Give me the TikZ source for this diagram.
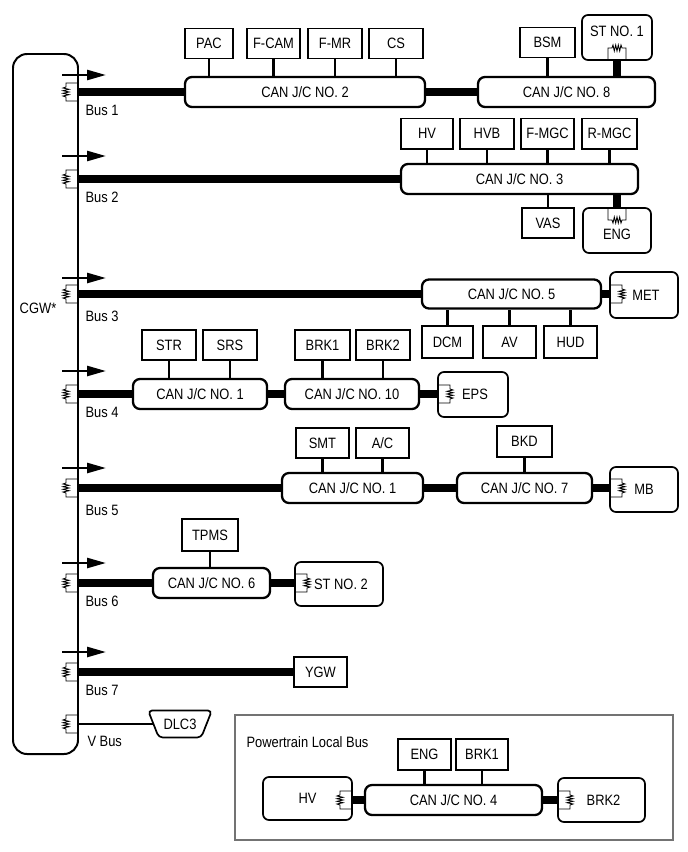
\documentclass[tikz,border=0pt]{standalone}
\usepackage{fontspec}
\setmainfont{Liberation Sans}[FakeStretch=0.86]
\usetikzlibrary{arrows.meta,shapes.geometric}
\def\termres(#1)(#2){\draw[line width=0.3mm, shift={(#1)}, rotate=#2] (0,-9) -- (-12,-9) -- (-12,-5) -- (-15,-4) -- (-9,-2.7) -- (-15,-1.3) -- (-9,0) -- (-15,1.3) -- (-9,2.7) -- (-15,4) -- (-12,5) -- (-12,9) -- (0,9);}

\begin{document}
\begin{tikzpicture}[x=1pt, y=-1pt, font=\fontsize{15}{17}\selectfont,
	ecu/.style={draw, line width=0.7mm, minimum height=30, inner sep=0},
	jc/.style={draw, line width=0.8mm, rounded corners=7, minimum height=30, inner sep=0},
	dev/.style={draw, line width=0.6mm, rounded corners=6, inner sep=0},
	bus/.style={line width=3.1mm},
	stub/.style={line width=0.9mm}]
		%%%%% START %%%%%
		
		\useasboundingbox (0,0) rectangle (688,852);
		
		\node[draw, line width=0.7mm, rounded corners=14, minimum width=65, minimum height=700] (cgw) at (45.5,404) {};
		\node (cgwtxt) at (38,308) {CGW*};
		
		\foreach \by/\ay/\ly/\bn in {92/75/110/1, 179/156/197/2, 294/278/316/3, 394/371/412/4, 488/468/510/5, 583/563/601/6, 672/652/690/7}{
			\draw[line width=0.9mm, -{Triangle[length=19pt,width=10pt]}] (62,\ay) -- (106,\ay);
			\termres(78,\by)(0)
			\node[anchor=west] (bus\bn) at (82,\ly) {Bus \bn};
		}
		\termres(78,724)(0)
		\node[anchor=west] (vbus) at (84,741) {V Bus};
		
		% Bus 1
		\node[jc, minimum width=240] (jc2) at (305,92) {CAN J/C NO. 2};
		\node[jc, minimum width=177] (jc8) at (566.5,92) {CAN J/C NO. 8};
		\node[ecu, minimum width=48] (pac) at (209,43.5) {PAC};
		\node[ecu, minimum width=53] (fcam) at (273.5,43.5) {F-CAM};
		\node[ecu, minimum width=54] (fmr) at (335,43.5) {F-MR};
		\node[ecu, minimum width=54] (cs) at (396,43.5) {CS};
		\node[ecu, minimum width=55] (bsm) at (547.5,42.5) {BSM};
		\node[dev, minimum width=70, minimum height=45, label={[yshift=6.5]center:ST NO. 1}] (st1) at (617,37.5) {};
		\draw[bus] (cgw.east |- jc2.west) -- (jc2.west);
		\draw[bus] (jc2.east) -- (jc8.west);
		\draw[stub] (pac.south) -- (pac.south |- jc2.north);
		\draw[stub] (fcam.south) -- (fcam.south |- jc2.north);
		\draw[stub] (fmr.south) -- (fmr.south |- jc2.north);
		\draw[stub] (cs.south) -- (cs.south |- jc2.north);
		\draw[stub] (bsm.south) -- (bsm.south |- jc8.north);
		\draw[line width=2.8mm] (st1.south) -- (st1.south |- jc8.north);
		\termres(617,60)(-90)
		
		% Bus 2
		\node[jc, minimum width=237] (jc3) at (519.5,179) {CAN J/C NO. 3};
		\node[ecu, minimum width=52] (hv) at (427,133.5) {HV};
		\node[ecu, minimum width=54] (hvb) at (487,133.5) {HVB};
		\node[ecu, minimum width=53] (fmgc) at (547.5,133.5) {F-MGC};
		\node[ecu, minimum width=55] (rmgc) at (609.5,133.5) {R-MGC};
		\node[ecu, minimum width=52] (vas) at (548,223) {VAS};
		\node[dev, minimum width=68, minimum height=45, label={[yshift=-4]center:ENG}] (eng) at (617,230.5) {};
		\draw[bus] (cgw.east |- jc3.west) -- (jc3.west);
		\draw[stub] (hv.south) -- (hv.south |- jc3.north);
		\draw[stub] (hvb.south) -- (hvb.south |- jc3.north);
		\draw[stub] (fmgc.south) -- (fmgc.south |- jc3.north);
		\draw[stub] (rmgc.south) -- (rmgc.south |- jc3.north);
		\draw[stub] (vas.north) -- (vas.north |- jc3.south);
		\draw[line width=2.8mm] (eng.north) -- (eng.north |- jc3.south);
		\termres(617,208)(90)
		
		% Bus 3
		\node[jc, minimum width=179, minimum height=29] (jc5) at (511.5,294) {CAN J/C NO. 5};
		\node[dev, minimum width=68, minimum height=46] (met) at (644,295) {\hspace{4pt}MET};
		\node[ecu, minimum width=51, minimum height=32] (dcm) at (447.5,342) {DCM};
		\node[ecu, minimum width=53, minimum height=32] (av) at (509.5,342) {AV};
		\node[ecu, minimum width=53, minimum height=32] (hud) at (570.5,342) {HUD};
		\draw[bus] (cgw.east |- jc5.west) -- (jc5.west);
		\draw[bus] (jc5.east) -- (met.west |- jc5.east);
		\draw[stub] (dcm.north) -- (dcm.north |- jc5.south);
		\draw[stub] (av.north) -- (av.north |- jc5.south);
		\draw[stub] (hud.north) -- (hud.north |- jc5.south);
		\termres(610,294)(180)
		
		% Bus 4
		\node[jc, minimum width=134] (jc1a) at (200,394) {CAN J/C NO. 1};
		\node[jc, minimum width=134] (jc10) at (352,394) {CAN J/C NO. 10};
		\node[dev, minimum width=70, minimum height=45] (eps) at (473,394.5) {\hspace{4pt}EPS};
		\node[ecu, minimum width=54] (str) at (169,345) {STR};
		\node[ecu, minimum width=54] (srs) at (230,345) {SRS};
		\node[ecu, minimum width=55] (brk1) at (322.5,345) {BRK1};
		\node[ecu, minimum width=54] (brk2) at (383,345) {BRK2};
		\draw[bus] (cgw.east |- jc1a.west) -- (jc1a.west);
		\draw[bus] (jc1a.east) -- (jc10.west);
		\draw[bus] (jc10.east) -- (eps.west |- jc10.east);
		\draw[stub] (str.south) -- (str.south |- jc1a.north);
		\draw[stub] (srs.south) -- (srs.south |- jc1a.north);
		\draw[stub] (brk1.south) -- (brk1.south |- jc10.north);
		\draw[stub] (brk2.south) -- (brk2.south |- jc10.north);
		\termres(438,394)(180)
		
		% Bus 5
		\node[jc, minimum width=141] (jc1b) at (352.5,488) {CAN J/C NO. 1};
		\node[jc, minimum width=135] (jc7) at (524.5,488) {CAN J/C NO. 7};
		\node[dev, minimum width=68, minimum height=45] (mb) at (644,489.5) {MB};
		\node[ecu, minimum width=53] (smt) at (322.5,443) {SMT};
		\node[ecu, minimum width=53] (ac) at (382.5,443) {A/C};
		\node[ecu, minimum width=55, minimum height=31] (bkd) at (524.5,441.5) {BKD};
		\draw[bus] (cgw.east |- jc1b.west) -- (jc1b.west);
		\draw[bus] (jc1b.east) -- (jc7.west);
		\draw[bus] (jc7.east) -- (mb.west |- jc7.east);
		\draw[stub] (smt.south) -- (smt.south |- jc1b.north);
		\draw[stub] (ac.south) -- (ac.south |- jc1b.north);
		\draw[stub] (bkd.south) -- (bkd.south |- jc7.north);
		\termres(610,488)(180)
		
		% Bus 6
		\node[jc, minimum width=117] (jc6) at (211.5,583) {CAN J/C NO. 6};
		\node[ecu, minimum width=56, minimum height=32] (tpms) at (210,535) {TPMS};
		\node[dev, minimum width=88, minimum height=44] (st2) at (339,584) {\hspace{4pt}ST NO. 2};
		\draw[bus] (cgw.east |- jc6.west) -- (jc6.west);
		\draw[bus] (jc6.east) -- (st2.west |- jc6.east);
		\draw[stub] (tpms.south) -- (tpms.south |- jc6.north);
		\termres(295,583)(180)
		
		% Bus 7
		\node[ecu, minimum width=53] (ygw) at (320.5,672) {YGW};
		\draw[bus] (cgw.east |- ygw.west) -- (ygw.west);
		
		% V Bus
		\node[draw, line width=0.6mm, shape=trapezium, shape border rotate=180, trapezium left angle=52, trapezium right angle=52, trapezium stretches=true, minimum width=64, minimum height=27, rounded corners=4, inner sep=0] (dlc3) at (180,724) {DLC3};
		\draw[line width=0.6mm] (cgw.east |- dlc3.west) -- (dlc3.west);
		
		% Powertrain
		\node[draw, color=black!55, line width=0.4mm, minimum width=438, minimum height=125] (pt) at (454,777.5) {};
		\node[anchor=west] (pttxt) at (243,742) {Powertrain Local Bus};
		\node[dev, minimum width=89, minimum height=43] (hv2) at (307.5,798.5) {HV};
		\node[jc, minimum width=177] (jc4) at (453.5,800) {CAN J/C NO. 4};
		\node[dev, minimum width=87, minimum height=44] (brk2b) at (601.5,800) {\hspace{4pt}BRK2};
		\node[ecu, minimum width=53, minimum height=31] (eng2) at (424.5,754.5) {ENG};
		\node[ecu, minimum width=52, minimum height=31] (brk1b) at (482,754.5) {BRK1};
		\draw[bus] (hv2.east |- jc4.west) -- (jc4.west);
		\draw[bus] (jc4.east) -- (brk2b.west |- jc4.east);
		\draw[stub] (eng2.south) -- (eng2.south |- jc4.north);
		\draw[stub] (brk1b.south) -- (brk1b.south |- jc4.north);
		\termres(352,800)(0)
		\termres(558,800)(180)
		
		%%%%% END %%%%%
	\end{tikzpicture}
\end{document}
